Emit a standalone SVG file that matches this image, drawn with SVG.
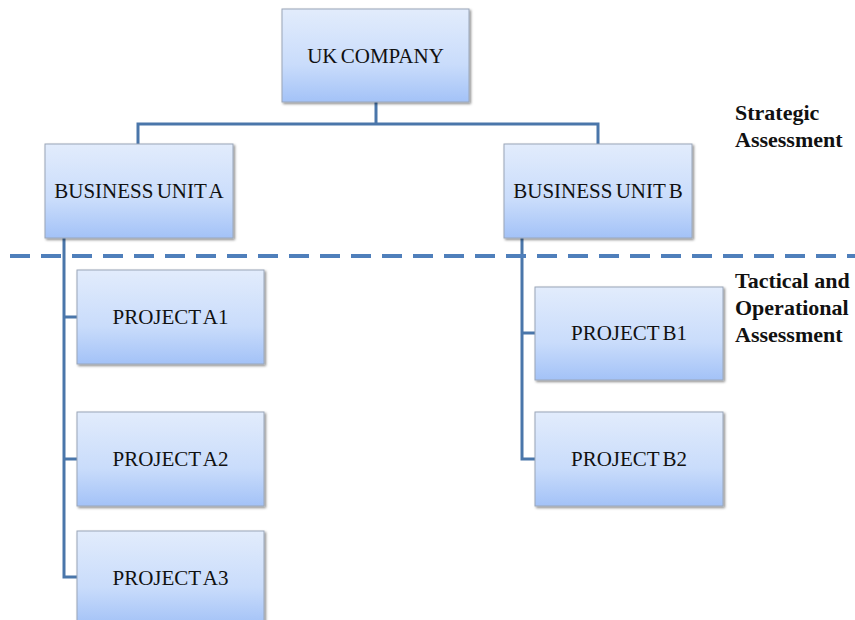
<svg xmlns="http://www.w3.org/2000/svg" width="855" height="620" viewBox="0 0 855 620">
<defs>
<linearGradient id="g" x1="0" y1="0" x2="0" y2="1">
<stop offset="0" stop-color="#e2ecfc"/>
<stop offset="0.6" stop-color="#c9dcfb"/>
<stop offset="1" stop-color="#a3c2f7"/>
</linearGradient>
<filter id="sh" x="-5%" y="-5%" width="115%" height="115%">
<feDropShadow dx="1.5" dy="1.5" stdDeviation="0.8" flood-color="#000" flood-opacity="0.45"/>
</filter>
</defs>
<style>
.box{fill:url(#g);stroke:#9aa6b8;stroke-width:1;filter:url(#sh)}
.lbl{font-size:21px;fill:#111;text-anchor:middle;word-spacing:-2px}
.side{font-size:22px;font-weight:bold;fill:#111}
.con{fill:none;stroke:#4a76aa;stroke-width:3}
</style>
<rect width="855" height="620" fill="#fff"/>
<g id="connectors">
<path class="con" d="M376 102V124M138 144V124H598V144"/>
<path class="con" d="M64 238V577H77M64 317H77M64 459H77"/>
<path class="con" d="M522 238V459H535M522 333H535"/>
<line x1="10" y1="256" x2="855" y2="256" stroke="#4f7fbb" stroke-width="4" stroke-dasharray="20 11"/>
</g>
<g font-family="Liberation Serif, DejaVu Serif, serif">
<g id="uk"><rect class="box" x="282" y="9" width="187" height="93"/><text class="lbl" x="375.5" y="63">UK COMPANY</text></g>
<g id="bua"><rect class="box" x="45" y="144" width="188" height="94"/><text class="lbl" x="139" y="198">BUSINESS UNIT A</text></g>
<g id="bub"><rect class="box" x="504" y="144" width="188" height="94"/><text class="lbl" x="598" y="198">BUSINESS UNIT B</text></g>
<g id="pa1"><rect class="box" x="77" y="270" width="187" height="94"/><text class="lbl" x="170.5" y="324">PROJECT A1</text></g>
<g id="pa2"><rect class="box" x="77" y="412" width="187" height="94"/><text class="lbl" x="170.5" y="466">PROJECT A2</text></g>
<g id="pa3"><rect class="box" x="77" y="531" width="187" height="94"/><text class="lbl" x="170.5" y="585">PROJECT A3</text></g>
<g id="pb1"><rect class="box" x="535" y="287" width="188" height="93"/><text class="lbl" x="629" y="340">PROJECT B1</text></g>
<g id="pb2"><rect class="box" x="535" y="412" width="188" height="94"/><text class="lbl" x="629" y="466">PROJECT B2</text></g>
<g id="labels">
<text class="side" x="735" y="120">Strategic</text>
<text class="side" x="735" y="147">Assessment</text>
<text class="side" x="735" y="288">Tactical and</text>
<text class="side" x="735" y="315">Operational</text>
<text class="side" x="735" y="342">Assessment</text>
</g>
</g>
</svg>
